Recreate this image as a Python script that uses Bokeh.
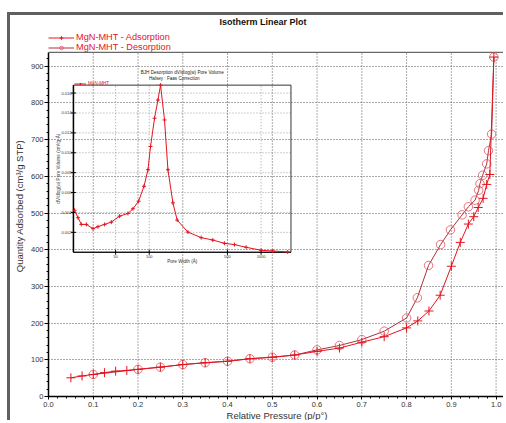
import math
from bokeh.plotting import figure
from bokeh.models import (Range1d, LogScale, FixedTicker, PrintfTickFormatter,
                          Legend, LegendItem, Label)
from bokeh.core.properties import value
from bokeh.embed import file_html
from bokeh.resources import INLINE

# ---------------- data ----------------
ads_p = [0.05, 0.075, 0.1, 0.125, 0.15, 0.175, 0.2, 0.25, 0.3, 0.35, 0.4, 0.45, 0.5, 0.55,
         0.6, 0.65, 0.7, 0.75, 0.8, 0.825, 0.85, 0.875, 0.9, 0.92, 0.938, 0.95, 0.96,
         0.971, 0.979, 0.986, 0.995]
ads_q = [51, 56, 60, 65, 69, 71, 74, 80, 87, 92, 96, 103, 107, 113,
         123, 132, 148, 163, 187, 206, 233, 276, 355, 420, 470, 490, 515,
         540, 578, 605, 925]

des_p = [0.995, 0.99, 0.983, 0.979, 0.97, 0.964, 0.961, 0.953, 0.938, 0.924, 0.898, 0.876,
         0.849, 0.824, 0.8, 0.75, 0.7, 0.65, 0.6, 0.55, 0.5, 0.45, 0.4, 0.35, 0.3, 0.25,
         0.2, 0.1]
des_q = [925, 715, 670, 634, 603, 580, 562, 535, 517, 495, 454, 414,
         357, 269, 214, 178, 155, 139, 127, 113, 107, 103, 96, 92, 87, 80,
         74, 60]

x_ticks = [0.0, 0.1, 0.2, 0.3, 0.4, 0.5, 0.6, 0.7, 0.8, 0.9, 1.0]
y_ticks = [0, 100, 200, 300, 400, 500, 600, 700, 800, 900]

# inset: BJH desorption pore size distribution
psd_w = [21.5, 23.1, 24.7, 27.4, 31.4, 34.8, 39.9, 45.8, 54.3, 64.5, 71.5, 80.3, 89.7,
         97.4, 102.7, 111.5, 119.6, 126.2, 136.9, 146.9, 162.8, 177.8, 221.6, 291, 370,
         470, 578, 735, 1000, 1270, 1730]
psd_v = [0.00423, 0.00347, 0.0028, 0.0028, 0.00237, 0.00257, 0.0028, 0.00303, 0.00363,
         0.0039, 0.00437, 0.00513, 0.00663, 0.0083, 0.01063, 0.01347, 0.0153, 0.0168,
         0.0133, 0.0083, 0.00497, 0.00323, 0.00203, 0.00147, 0.00123, 0.0009, 0.00077,
         0.0005, 0.0002, 0.00013, 0.00003]
psd_xticks = [50, 100, 500, 1000]
psd_yticks = [0.002, 0.004, 0.006, 0.008, 0.010, 0.012, 0.014, 0.016]
psd_xlim = (21, 1850)
psd_ylim = (0, 0.0168)

# ---------------- layout constants ----------------
FONT = "Liberation Sans"
W, H = 496, 408
ML, MR, MT, MB = 37, 1, 0, 25
FW, FH = W - ML - MR, H - MT - MB          # frame incl. the header strip
PLOT_H = 346                                # height of the plotted area (px from bottom)
YMAX = 938                                  # top of plotted area (data)
XMAX = 1.021
XR = (0, XMAX)
YR = (0, YMAX * FH / PLOT_H)
X_EDGE = 1.019                              # right frame line


def fy(px):
    """frame pixels (from bottom) -> main data y"""
    return px * (YR[1] - YR[0]) / FH


# inset box in frame pixels (from frame left / frame bottom)
IN_L, IN_R, IN_B, IN_T = 25.0, 243.0, 145.0, 313.0

RED = "#e4141e"
DRED = "#b0303a"
GRID = "#555555"

p = figure(width=W, height=H, x_range=Range1d(*XR), y_range=Range1d(*YR),
           output_backend="svg", toolbar_location=None,
           min_border_left=ML, min_border_right=MR, min_border_top=MT, min_border_bottom=MB,
           background_fill_color="white", border_fill_color="white",
           outline_line_color=None)
p.margin = (12, 0, 0, 7)
p.styles = {"border-top": "3px solid #606060", "border-left": "3px solid #606060"}

# axes
p.xaxis.ticker = FixedTicker(ticks=x_ticks, minor_ticks=[i * 0.02 for i in range(51)])
p.yaxis.ticker = FixedTicker(ticks=y_ticks, minor_ticks=[i * 20 for i in range(47)])
p.xaxis.formatter = PrintfTickFormatter(format="%.1f")
p.yaxis.bounds = (0, YMAX)
for ax in (p.xaxis[0], p.yaxis[0]):
    ax.axis_line_color = "black"
    ax.axis_line_width = 1.5
    ax.major_tick_in = 0
    ax.major_tick_out = 4
    ax.minor_tick_in = 0
    ax.minor_tick_out = 2
    ax.major_tick_line_color = "black"
    ax.minor_tick_line_color = "black"
    ax.major_label_text_font = FONT
    ax.major_label_text_font_size = "7.5px"
    ax.major_label_text_color = "#333333"
    ax.axis_label_text_font = FONT
    ax.axis_label_text_font_size = "9.5px"
    ax.axis_label_text_font_style = "normal"
    ax.axis_label_text_color = "#333333"
    ax.major_label_standoff = 1
    ax.axis_label_standoff = 0
p.xaxis.major_tick_out = 3
p.xaxis.major_label_standoff = 2
p.xaxis.axis_label = "Relative Pressure (p/p°)"
p.yaxis.axis_label = "Quantity Adsorbed (cm³/g STP)"
p.yaxis.axis_label_standoff = 3

# grid
p.xgrid.visible = False
p.ygrid.ticker = FixedTicker(ticks=y_ticks)
p.ygrid[0].grid_line_color = GRID
p.ygrid[0].grid_line_dash = "1 2"
p.ygrid[0].grid_line_width = 1
p.segment(x0=x_ticks, y0=[0] * len(x_ticks), x1=x_ticks, y1=[YMAX] * len(x_ticks),
          line_color=GRID, line_dash="1 2", line_width=1)
# frame top / right lines
p.segment(x0=[0, X_EDGE], y0=[YMAX, 0], x1=[X_EDGE, X_EDGE], y1=[YMAX, YMAX],
          line_color="#444444", line_width=1)

# ---------------- inset scales ----------------
lx0, lx1 = math.log10(psd_xlim[0]), math.log10(psd_xlim[1])
kx = (lx1 - lx0) / (IN_R - IN_L)
ex_x = Range1d(10 ** (lx0 - IN_L * kx), 10 ** (lx1 + (FW - IN_R) * kx))
ky = (psd_ylim[1] - psd_ylim[0]) / (IN_T - IN_B)
ex_y = Range1d(psd_ylim[0] - IN_B * ky, psd_ylim[1] + (FH - IN_T) * ky)
p.extra_x_ranges = {"psd_x": ex_x}
p.extra_x_scales = {"psd_x": LogScale()}
p.extra_y_ranges = {"psd_y": ex_y}
IX = dict(x_range_name="psd_x", y_range_name="psd_y")
SMALL = "4.6px"

# inset grid lines
p.segment(x0=psd_xticks, y0=[psd_ylim[0]] * len(psd_xticks), x1=psd_xticks,
          y1=[psd_ylim[1]] * len(psd_xticks), line_color="#888888", line_dash="1 2",
          line_width=0.8, **IX)
p.segment(x0=[psd_xlim[0]] * len(psd_yticks), y0=psd_yticks, x1=[psd_xlim[1]] * len(psd_yticks),
          y1=psd_yticks, line_color="#888888", line_dash="1 2", line_width=0.8, **IX)
# inset frame
p.quad(left=[psd_xlim[0]], right=[psd_xlim[1]], bottom=[psd_ylim[0]], top=[psd_ylim[1]],
       fill_alpha=0, line_color="#333333", line_width=1, **IX)
p.segment(x0=[psd_xlim[0]], y0=[psd_ylim[0]], x1=[psd_xlim[0]], y1=[psd_ylim[1]],
          line_color="black", line_width=1.5, **IX)
p.segment(x0=[psd_xlim[0]], y0=[psd_ylim[0]], x1=[psd_xlim[1]], y1=[psd_ylim[0]],
          line_color="black", line_width=1.2, **IX)
# inset ticks
p.scatter(x=[psd_xlim[0]] * len(psd_yticks), y=psd_yticks, marker="dash", size=5,
          line_color="black", **IX)
p.scatter(x=psd_xticks, y=[psd_ylim[0]] * len(psd_xticks), marker="dash", angle=math.pi / 2,
          size=5, line_color="black", **IX)
# inset tick labels
p.text(x=[psd_xlim[0]] * len(psd_yticks), y=psd_yticks,
       text=[f"{v:.3f}" for v in psd_yticks], x_offset=-2, text_align="right",
       text_baseline="middle", text_font=value(FONT), text_font_size="4px",
       text_color="#333333", **IX)
p.text(x=psd_xticks, y=[psd_ylim[0]] * len(psd_xticks), text=[str(t) for t in psd_xticks],
       y_offset=2.5, text_align="center", text_baseline="top", text_font=value(FONT),
       text_font_size="4px", text_color="#333333", **IX)
# inset axis labels and titles
xmid = math.sqrt(psd_xlim[0] * psd_xlim[1])
p.text(x=[xmid], y=[psd_ylim[0]], text=["Pore Width (Å)"], y_offset=7, text_align="center",
       text_baseline="top", text_font=value(FONT), text_font_size=SMALL,
       text_color="#333333", **IX)
p.text(x=[psd_xlim[0]], y=[(psd_ylim[0] + psd_ylim[1]) / 2],
       text=["dV/dlog(w) Pore Volume (cm³/g·Å)"], x_offset=-12.5, angle=math.pi / 2,
       text_align="center", text_baseline="bottom", text_font=value(FONT),
       text_font_size=SMALL, text_color="#333333", **IX)
p.text(x=[xmid], y=[psd_ylim[1]], text=["BJH Desorption dV/dlog(w) Pore Volume"],
       y_offset=-10, text_align="center", text_baseline="bottom", text_font=value(FONT),
       text_font_size=SMALL, text_color="#222222", **IX)
p.text(x=[xmid * 0.85], y=[psd_ylim[1]], text=["Halsey : Faas Correction"],
       y_offset=-4, text_align="center", text_baseline="bottom", text_font=value(FONT),
       text_font_size=SMALL, text_color="#222222", **IX)
# inset data
psd_line = p.line(psd_w, psd_v, line_color=RED, line_width=1, **IX)
psd_pts = p.scatter(psd_w, psd_v, marker="cross", size=4, line_color=RED, **IX)

# ---------------- main data ----------------
des_line = p.line(des_p, des_q, line_color=DRED, line_width=1)
des_pts = p.scatter(des_p, des_q, marker="circle", size=8.5, fill_alpha=0,
                    line_color="#e05060", line_width=0.8)
ads_line = p.line(ads_p, ads_q, line_color=RED, line_width=1)
ads_pts = p.scatter(ads_p, ads_q, marker="cross", size=9, line_color=RED, line_width=1)


# ---------------- legends ----------------
def make_legend(label, rends, loc, fs, gw, gh):
    lg = Legend(items=[LegendItem(label=label, renderers=rends)], location=loc,
                orientation="vertical", padding=0, spacing=0, margin=0,
                border_line_alpha=0, background_fill_alpha=0,
                label_text_color=RED, label_text_font=FONT, label_text_font_size=fs,
                glyph_width=gw, glyph_height=gh, label_height=gh, label_standoff=2)
    p.add_layout(lg, "center")
    return lg


make_legend("MgN-MHT - Adsorption", [ads_line, ads_pts], (0, 354), "9.2px", 26, 9)
make_legend("MgN-MHT - Desorption", [des_line, des_pts], (0, 344), "9.2px", 26, 9)
make_legend("MgN-MHT", [psd_line, psd_pts], (IN_L + 1, IN_T - 3), "4.6px", 12, 5)

# ---------------- main title ----------------
p.add_layout(Label(x=0.479, y=fy(FH - 7), text="Isotherm Linear Plot", text_align="center",
                   text_baseline="middle", text_font=FONT, text_font_size="9px",
                   text_font_style="bold", text_color="#111111"))

open("out.html", "w").write(file_html(p, INLINE))
